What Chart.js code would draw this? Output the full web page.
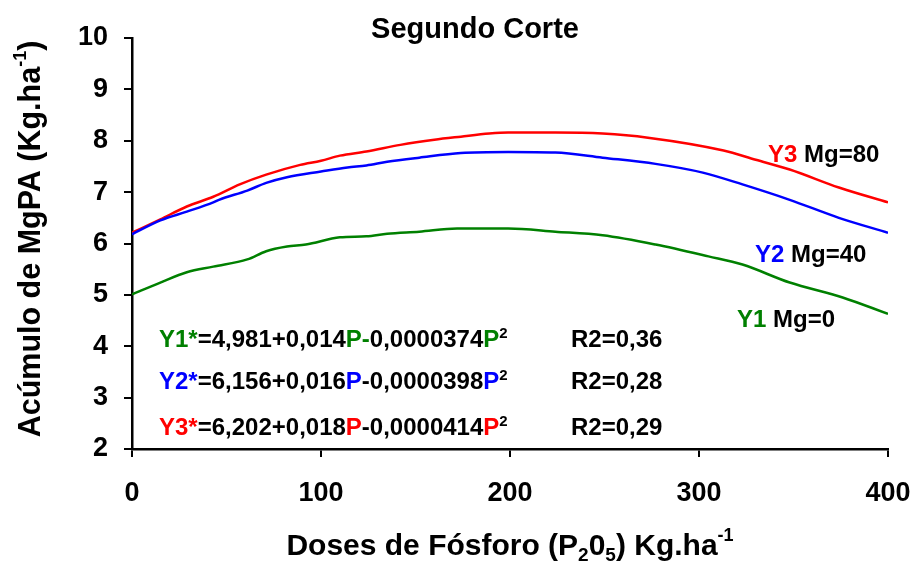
<!DOCTYPE html>
<html>
<head>
<meta charset="utf-8">
<script src="https://cdn.jsdelivr.net/npm/chart.js@4/dist/chart.umd.min.js"></script>
<style>
html,body{margin:0;padding:0;background:#fff;}
canvas{display:block;}
</style>
</head>
<body>
<canvas id="c" width="915" height="563"></canvas>
<script>
// ---- Data ----
const dosesY1 = [0, 15, 29, 43, 61, 71, 82, 92, 110, 124, 135, 152, 172, 199, 224, 249, 277, 305, 323, 348, 376, 400];
const mgY1    = [5.01, 5.24, 5.44, 5.55, 5.69, 5.85, 5.94, 5.98, 6.12, 6.14, 6.19, 6.23, 6.29, 6.29, 6.23, 6.16, 5.98, 5.75, 5.59, 5.24, 4.95, 4.63];

const dosesY2 = [0, 15, 29, 43, 46, 61, 71, 82, 100, 114, 124, 135, 152, 174, 199, 224, 249, 277, 302, 323, 348, 374, 400];
const mgY2    = [6.18, 6.45, 6.62, 6.80, 6.85, 7.03, 7.18, 7.29, 7.40, 7.48, 7.52, 7.59, 7.67, 7.76, 7.78, 7.77, 7.67, 7.55, 7.38, 7.15, 6.85, 6.50, 6.21];

const dosesY3 = [0, 15, 29, 43, 57, 71, 89, 100, 110, 124, 142, 160, 174, 189, 199, 224, 249, 273, 313, 330, 348, 374, 400];
const mgY3    = [6.21, 6.47, 6.72, 6.91, 7.15, 7.34, 7.53, 7.61, 7.71, 7.79, 7.92, 8.02, 8.08, 8.14, 8.16, 8.16, 8.14, 8.06, 7.81, 7.63, 7.44, 7.09, 6.80];

const seriesNames = ['Y1 Mg=0', 'Y2 Mg=40', 'Y3 Mg=80'];
const xTicks = [0, 100, 200, 300, 400];
const yTicks = [2, 3, 4, 5, 6, 7, 8, 9, 10];

const chartTitle = 'Segundo Corte';
const equations = [
  {name: 'Y1*', eq: ['=4,981+0,014', 'P-', '0,0000374', 'P'], r2: 'R2=0,36'},
  {name: 'Y2*', eq: ['=6,156+0,016', 'P', '-0,0000398', 'P'], r2: 'R2=0,28'},
  {name: 'Y3*', eq: ['=6,202+0,018', 'P', '-0,0000414', 'P'], r2: 'R2=0,29'}
];

// ---- Styles ----
const COLORS = ['#008000', '#0000FF', '#FF0000'];
const FAMILY = '"Liberation Sans", Arial, Helvetica, sans-serif';

function toPoints(xs, ys) { return xs.map((x, i) => ({x: x, y: ys[i]})); }

function drawRich(ctx, x, y, segs, align) {
  let total = 0;
  segs.forEach(s => { ctx.font = 'bold ' + s.size + 'px ' + FAMILY; s.w = ctx.measureText(s.t).width; total += s.w; });
  let cx = x;
  if (align === 'center') cx = x - total / 2;
  else if (align === 'right') cx = x - total;
  ctx.textBaseline = 'alphabetic';
  ctx.textAlign = 'left';
  segs.forEach(s => {
    ctx.font = 'bold ' + s.size + 'px ' + FAMILY;
    ctx.fillStyle = s.color || '#000';
    ctx.fillText(s.t, cx, y + (s.dy || 0));
    cx += s.w;
  });
}

const textPlugin = {
  id: 'textPlugin',
  afterDraw(chart) {
    const ctx = chart.ctx;
    const ca = chart.chartArea;
    ctx.save();
    // Title
    drawRich(ctx, 475, 38, [{t: chartTitle, size: 29}], 'center');

    // X-axis title
    drawRich(ctx, (ca.left + ca.right) / 2, 555, [
      {t: 'Doses de Fósforo (P', size: 30},
      {t: '2', size: 19, dy: 6},
      {t: '0', size: 30},
      {t: '5', size: 19, dy: 6},
      {t: ') Kg.ha', size: 30},
      {t: '-1', size: 18, dy: -14}
    ], 'center');

    // Y-axis title (rotated)
    ctx.save();
    ctx.translate(40, 239);
    ctx.rotate(-Math.PI / 2);
    drawRich(ctx, 0, 0, [
      {t: 'Acúmulo de MgPA (Kg.ha', size: 30.5},
      {t: '-1', size: 18, dy: -14},
      {t: ')', size: 30.5}
    ], 'center');
    ctx.restore();

    // Equations
    const baselines = [347, 389, 435];
    equations.forEach((e, i) => {
      const c = COLORS[i];
      drawRich(ctx, 159, baselines[i], [
        {t: e.name, size: 24, color: c},
        {t: e.eq[0], size: 24},
        {t: e.eq[1], size: 24, color: c},
        {t: e.eq[2], size: 24},
        {t: e.eq[3], size: 24, color: c},
        {t: '2', size: 15, dy: -9}
      ], 'left');
      drawRich(ctx, 571, baselines[i], [{t: e.r2, size: 24}], 'left');
    });

    // Series labels
    const labelPos = [[737, 327], [755, 262], [768, 162]];
    seriesNames.forEach((n, i) => {
      const parts = n.split(' ');
      drawRich(ctx, labelPos[i][0], labelPos[i][1], [
        {t: parts[0], size: 24, color: COLORS[i]},
        {t: ' ' + parts[1], size: 24}
      ], 'left');
    });
    ctx.restore();
  }
};

function fixPad(s) { s.paddingLeft = 0; s.paddingRight = 0; s.paddingTop = 0; s.paddingBottom = 0; }

new Chart(document.getElementById('c'), {
  type: 'line',
  data: {
    datasets: [
      {label: seriesNames[0], data: toPoints(dosesY1, mgY1), borderColor: COLORS[0]},
      {label: seriesNames[1], data: toPoints(dosesY2, mgY2), borderColor: COLORS[1]},
      {label: seriesNames[2], data: toPoints(dosesY3, mgY3), borderColor: COLORS[2]}
    ].map(d => Object.assign(d, {borderWidth: 2.5, pointRadius: 0, fill: false, cubicInterpolationMode: 'monotone'}))
  },
  options: {
    responsive: false,
    animation: false,
    devicePixelRatio: 1,
    layout: {padding: {top: 38, right: 27, left: 0, bottom: 0}},
    plugins: {legend: {display: false}, tooltip: {enabled: false}, title: {display: false}},
    scales: {
      x: {
        type: 'linear', min: 0, max: 400,
        afterFit: s => { s.height = 114; fixPad(s); },
        afterBuildTicks: s => { s.ticks = xTicks.map(v => ({value: v})); },
        grid: {drawOnChartArea: false, drawTicks: true, tickLength: 8, color: '#000', lineWidth: 2},
        border: {display: true, color: '#000', width: 2.5},
        ticks: {color: '#000', padding: 20, maxRotation: 0, font: {family: FAMILY, size: 27, weight: 'bold'}}
      },
      y: {
        type: 'linear', min: 2, max: 10,
        afterFit: s => { s.width = 132; fixPad(s); },
        afterBuildTicks: s => { s.ticks = yTicks.map(v => ({value: v})); },
        grid: {drawOnChartArea: false, drawTicks: true, tickLength: 8, color: '#000', lineWidth: 2},
        border: {display: true, color: '#000', width: 2.5},
        ticks: {color: '#000', padding: 16, font: {family: FAMILY, size: 27, weight: 'bold'}}
      }
    }
  },
  plugins: [textPlugin]
});
</script>
</body>
</html>
